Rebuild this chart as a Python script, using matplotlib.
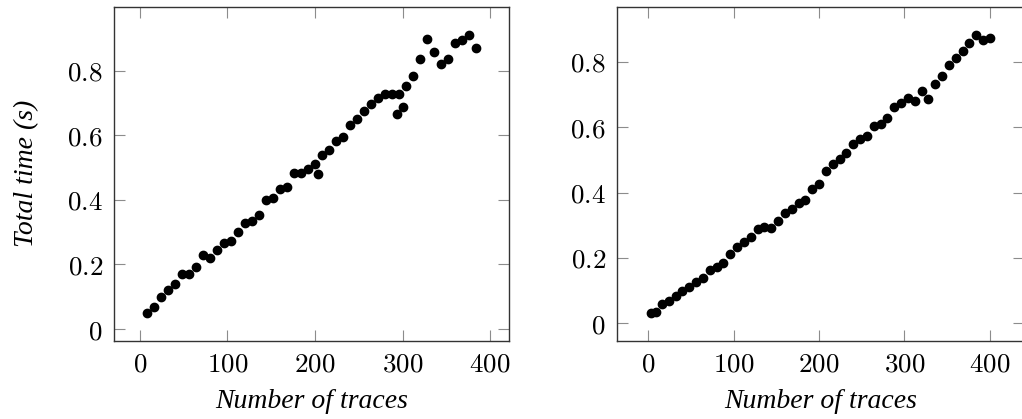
"""Total time against number of traces, two scatter panels."""

import matplotlib

matplotlib.use("Agg")
import matplotlib.pyplot as plt
from matplotlib.ticker import FuncFormatter, MultipleLocator

# left panel
left_traces = [8, 16, 24, 32, 40, 48, 56, 64, 72, 80, 88, 96, 104, 112, 120, 128,
               136, 144, 152, 160, 168, 176, 184, 192, 200, 204, 208, 216, 224, 232,
               240, 248, 256, 264, 272, 280, 288, 296, 294, 300, 304, 312, 320, 328,
               336, 344, 352, 360, 368, 376, 384]
left_time = [0.050, 0.069, 0.098, 0.121, 0.140, 0.170, 0.170, 0.193, 0.228, 0.220,
             0.244, 0.265, 0.272, 0.301, 0.329, 0.334, 0.353, 0.399, 0.407, 0.433,
             0.440, 0.483, 0.483, 0.497, 0.512, 0.479, 0.540, 0.555, 0.582, 0.595,
             0.633, 0.652, 0.674, 0.697, 0.716, 0.729, 0.729, 0.729, 0.666, 0.689,
             0.754, 0.785, 0.836, 0.897, 0.858, 0.820, 0.836, 0.887, 0.894, 0.912,
             0.870]

# right panel
right_traces = [3, 9, 16, 24, 32, 40, 48, 56, 64, 72, 80, 88, 96, 104, 112, 120, 128,
                136, 144, 152, 160, 168, 176, 184, 192, 200, 208, 216, 224, 232, 240,
                248, 256, 264, 272, 280, 288, 296, 304, 312, 320, 328, 336, 344, 352,
                360, 368, 376, 384, 392, 400]
right_time = [0.032, 0.034, 0.058, 0.068, 0.083, 0.099, 0.111, 0.126, 0.138, 0.162,
              0.172, 0.184, 0.213, 0.233, 0.250, 0.263, 0.288, 0.294, 0.292, 0.313,
              0.336, 0.351, 0.367, 0.378, 0.410, 0.426, 0.465, 0.486, 0.502, 0.522,
              0.547, 0.565, 0.573, 0.603, 0.609, 0.627, 0.663, 0.673, 0.689, 0.680,
              0.709, 0.687, 0.732, 0.755, 0.790, 0.810, 0.833, 0.856, 0.883, 0.867,
              0.873]

X_LABEL = "Number of traces"
Y_LABEL = "Total time (s)"

plt.rcParams["mathtext.fontset"] = "cm"
LABEL_FONT = dict(family="Liberation Serif", style="italic", size=20)


def tick_fmt(v, _pos):
    return f"${v:g}$"


def style_axes(ax):
    ax.margins(x=0.1, y=0.1)
    ax.xaxis.set_major_locator(MultipleLocator(100))
    ax.yaxis.set_major_locator(MultipleLocator(0.2))
    ax.xaxis.set_major_formatter(FuncFormatter(tick_fmt))
    ax.yaxis.set_major_formatter(FuncFormatter(tick_fmt))
    ax.tick_params(direction="in", top=True, right=True, length=8, width=0.8,
                   color="0.55", labelsize=19.5, pad=8)
    for spine in ax.spines.values():
        spine.set_color("0.2")
        spine.set_linewidth(1.0)
    ax.set_xlabel(X_LABEL, fontdict=LABEL_FONT, labelpad=8)


fig = plt.figure(figsize=(10.22, 4.19), dpi=100)
ax_left = fig.add_axes([0.1115, 0.1869, 0.3865, 0.797])
ax_right = fig.add_axes([0.6037, 0.1869, 0.398, 0.797])

ax_left.plot(left_traces, left_time, "o", color="black", markersize=6)
ax_right.plot(right_traces, right_time, "o", color="black", markersize=6)

style_axes(ax_left)
style_axes(ax_right)
ax_left.set_ylabel(Y_LABEL, fontdict=LABEL_FONT, labelpad=20)

fig.savefig("out.png", dpi=100)
plt.close(fig)
